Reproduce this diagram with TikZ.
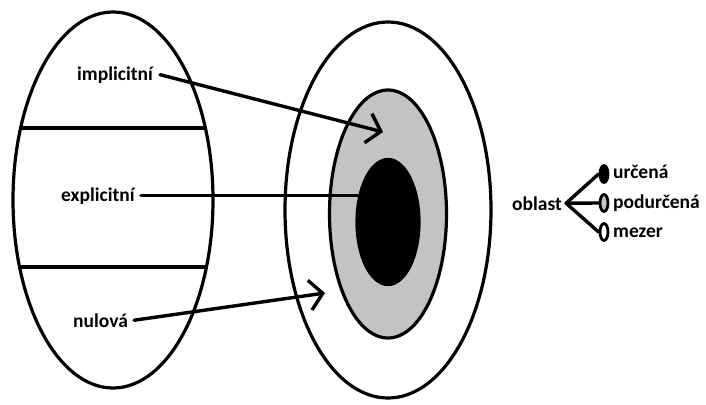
\documentclass[tikz,border=0pt]{standalone}
\usepackage{fontspec}
\setmainfont{Carlito}
\usetikzlibrary{arrows.meta,shapes.geometric}
\definecolor{cZone}{HTML}{C3C3C3}
\tikzset{
  >={Straight Barb[length=13pt,width=30pt]},
  lbl/.style={font=\bfseries\fontsize{19.5}{22}\selectfont, inner sep=0pt, anchor=base west},
  zone/.style={draw, ellipse, line width=3.2pt, inner sep=0pt, fill=#1},
  zone/.default=white,
  dot/.style={draw, ellipse, line width=2.8pt, inner sep=0pt, fill=#1,
              minimum width=8pt, minimum height=17pt},
  conn/.style={line width=3.4pt, line cap=round},
  wall/.style={line width=3.4pt},
}
\begin{document}
\begin{tikzpicture}[x=1pt, y=-1pt]
  \useasboundingbox (0,0) rectangle (706,404);
  % left ellipse with its three bands
  \node[zone, minimum width=200pt, minimum height=376pt] (dict) at (113,200) {};
  \draw[wall] (20.6,128) -- (205.4,128);
  \draw[wall] (19.6,267) -- (206.4,267);
  % right ellipse with gray ring and black core
  \node[zone, minimum width=206pt, minimum height=376pt] (outer) at (388,210) {};
  \node[zone=cZone, minimum width=117pt, minimum height=248pt] (ring) at (388,214) {};
  \node[zone=black, minimum width=62pt, minimum height=125pt] (core) at (388,222) {};

  \node[lbl] (impl) at (77,80)  {implicitní};
  \node[lbl] (expl) at (61,201) {explicitní};
  \node[lbl] (nul)  at (73,327) {nulová};
  \coordinate (implTip) at (383,132);
  \coordinate (nulTip)  at (325,293);

  \draw[conn, ->] ([xshift=7pt]impl.east) -- (implTip);
  \draw[conn] ([xshift=6pt]expl.east) -- (expl.east -| core.140);
  \draw[conn, ->] ([xshift=6pt]nul.east) -- (nulTip);

  % legend
  \node[lbl] (oblast) at (512,210) {oblast};
  \coordinate (fork) at ([xshift=4pt]oblast.east);
  \node[dot=black] (dotA) at (604,174) {};
  \node[dot=cZone] (dotB) at (604,203) {};
  \node[dot=white] (dotC) at (604,232) {};
  \draw[conn] (fork) -- (dotA.west);
  \draw[conn] (fork) -- (dotB.west);
  \draw[conn] (fork) -- (dotC.west);
  \node[lbl] (urc) at (613,178) {určená};
  \node[lbl] (pod) at (613,208) {podurčená};
  \node[lbl] (mez) at (613,237) {mezer};
\end{tikzpicture}
\end{document}
